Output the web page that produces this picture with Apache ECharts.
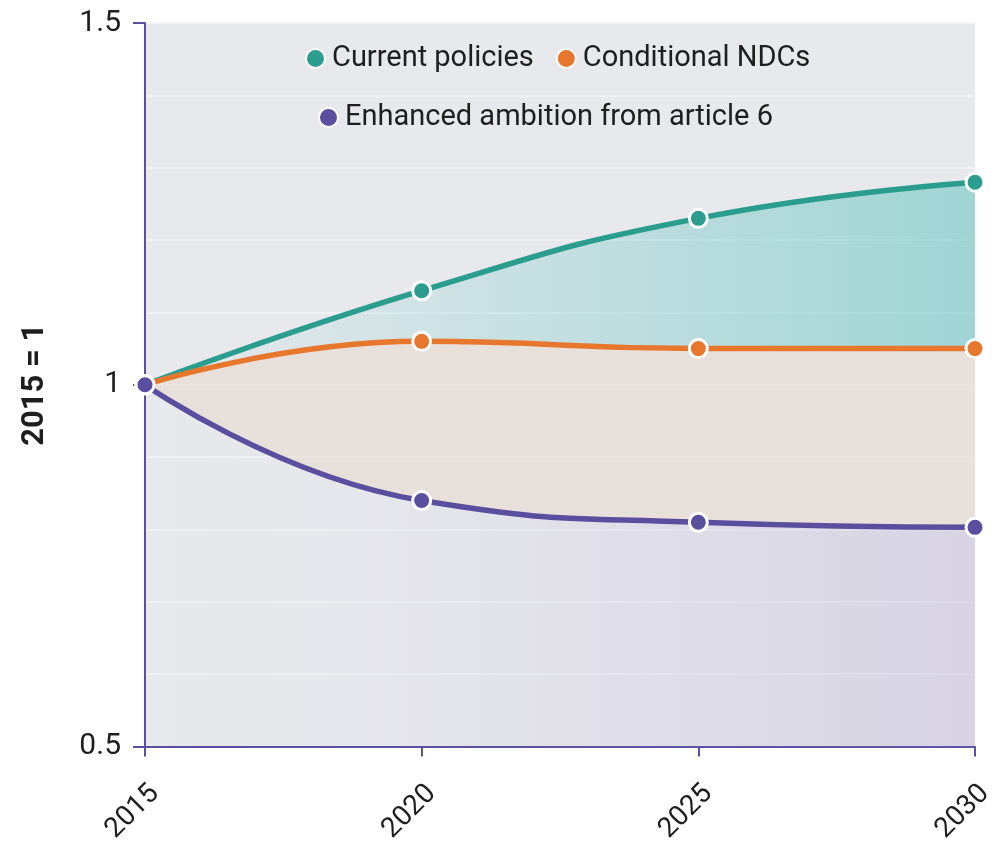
<!DOCTYPE html>
<html>
<head>
<meta charset="utf-8">
<title>Emissions pathways, 2015 = 1</title>
<script src="https://cdn.jsdelivr.net/npm/echarts@6/dist/echarts.min.js"></script>
<style>
  html, body { margin: 0; padding: 0; background: #ffffff; }
  #chart { width: 997px; height: 846px; }
</style>
</head>
<body>
<div id="chart"></div>
<script>
// Index values relative to 2015
const years = ['2015', '2020', '2025', '2030'];
const currentPolicies = [1, 1.13, 1.23, 1.28];
const conditionalNdcs = [1, 1.06, 1.05, 1.05];
const enhancedAmbition = [1, 0.84, 0.81, 0.803];
const yTickValues = [0.5, 1, 1.5];

// The bands are stacked: each band's thickness is the gap to the line below it
const condBand = conditionalNdcs.map((v, i) => +(v - enhancedAmbition[i]).toFixed(4));
const currBand = currentPolicies.map((v, i) => +(v - conditionalNdcs[i]).toFixed(4));

const FONT = 'Roboto, "Open Sans", sans-serif';
const AXIS_COLOR = '#5a50a2';
const TEXT_COLOR = '#1e1e1e';
const TEAL = '#2a9d8f';
const ORANGE = '#e8772e';
const PURPLE = '#5a4e9e';

const chart = echarts.init(document.getElementById('chart'), null, { renderer: 'canvas' });

function lineSeries(name, data, color, z, area) {
  return {
    name: name,
    type: 'line',
    stack: 'band',
    data: data,
    smooth: 0.5,
    z: z,
    symbol: 'circle',
    symbolSize: 18,
    showSymbol: true,
    lineStyle: { color: color, width: 5.5 },
    itemStyle: { color: color, borderColor: '#ffffff', borderWidth: 3 },
    areaStyle: area,
    emphasis: { disabled: true }
  };
}

const legendText = { fontFamily: FONT, fontSize: 29, color: TEXT_COLOR, padding: [0, 0, 0, 2] };

const option = {
  backgroundColor: '#ffffff',
  animation: false,
  grid: {
    left: 145, right: 22, top: 23, bottom: 97,
    show: true, backgroundColor: '#e8e9ed', borderWidth: 0
  },
  legend: [
    {
      data: ['Current policies', 'Conditional NDCs'],
      left: 300, top: 39,
      icon: 'circle', itemWidth: 19, itemHeight: 19, itemGap: 22,
      textStyle: legendText
    },
    {
      data: ['Enhanced ambition from article 6'],
      left: 313, top: 98,
      icon: 'circle', itemWidth: 19, itemHeight: 19,
      textStyle: legendText
    }
  ],
  xAxis: {
    type: 'category',
    data: years,
    boundaryGap: false,
    axisLine: { show: true, lineStyle: { color: AXIS_COLOR, width: 2 } },
    axisTick: { show: true, alignWithLabel: true, length: 10, lineStyle: { color: AXIS_COLOR, width: 2 } },
    axisLabel: {
      rotate: 45, margin: 33, fontFamily: FONT, fontSize: 28, color: TEXT_COLOR,
      verticalAlign: 'top',
      interval: 0
    },
    splitLine: { show: false }
  },
  yAxis: [
    {
      type: 'value',
      min: 0.5, max: 1.5, interval: 0.5,
      name: '2015 = 1',
      nameLocation: 'middle',
      nameGap: 94,
      nameRotate: 90,
      nameTextStyle: { fontFamily: FONT, fontSize: 31, fontWeight: 'bold', color: TEXT_COLOR },
      axisLine: { show: true, lineStyle: { color: AXIS_COLOR, width: 2 } },
      axisTick: { show: true, length: 12, lineStyle: { color: AXIS_COLOR, width: 2 } },
      axisLabel: {
        margin: 24, fontFamily: FONT, fontSize: 30, color: TEXT_COLOR,
        customValues: yTickValues,
        formatter: v => String(v)
      },
      splitLine: { show: false }
    },
    {
      type: 'value',
      min: 0.5, max: 1.5, interval: 0.1,
      position: 'left',
      axisLine: { show: false },
      axisTick: { show: false },
      axisLabel: { show: false },
      splitLine: { show: true, lineStyle: { color: '#f3f4f6', width: 1.5 } }
    }
  ],
  series: [
    lineSeries('Enhanced ambition from article 6', enhancedAmbition, PURPLE, 5, {
      color: new echarts.graphic.LinearGradient(0, 0, 1, 0, [
        { offset: 0, color: 'rgba(175,160,205,0.0)' },
        { offset: 0.3, color: 'rgba(175,160,205,0.06)' },
        { offset: 1, color: 'rgba(175,160,205,0.42)' }
      ])
    }),
    lineSeries('Conditional NDCs', condBand, ORANGE, 4, {
      color: 'rgba(233,216,204,0.75)'
    }),
    lineSeries('Current policies', currBand, TEAL, 3, {
      color: new echarts.graphic.LinearGradient(0, 0, 1, 0, [
        { offset: 0, color: 'rgba(60,185,180,0.0)' },
        { offset: 1, color: 'rgba(60,185,180,0.6)' }
      ])
    })
  ]
};

chart.setOption(option);
</script>
</body>
</html>
